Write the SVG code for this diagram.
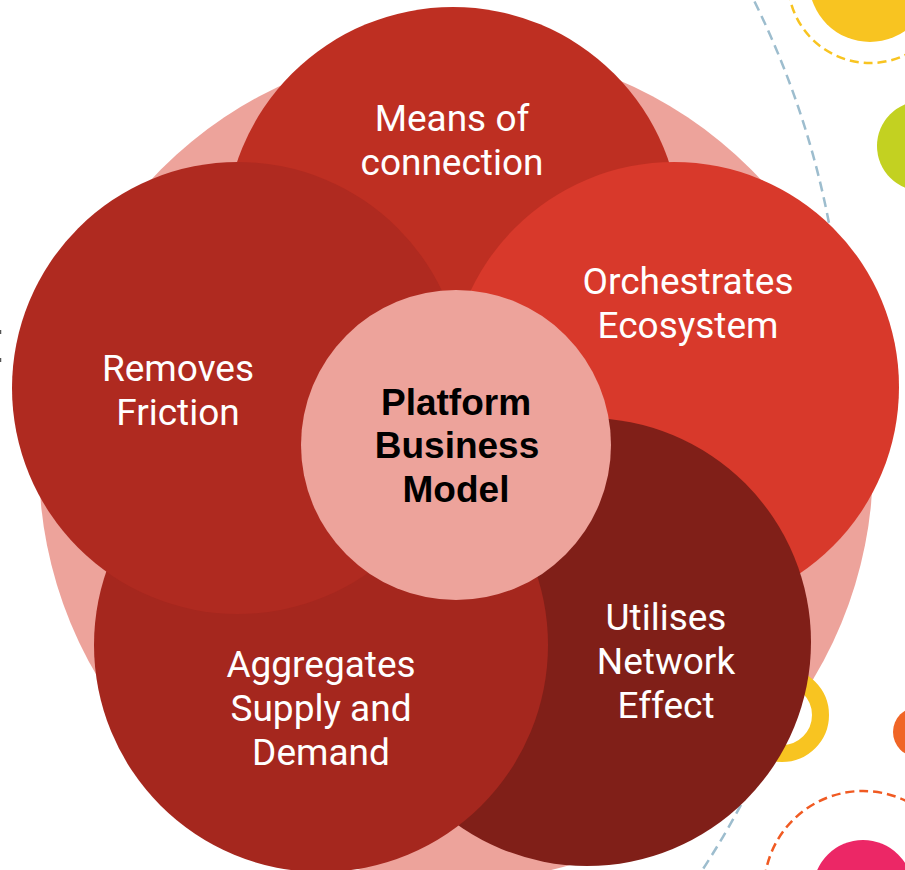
<svg xmlns="http://www.w3.org/2000/svg" width="905" height="870" viewBox="0 0 905 870">
<style>
.lbl{font-family:Roboto,"Liberation Sans",sans-serif;font-size:37px;fill:#ffffff;text-anchor:middle}
.ctr{font-family:"Liberation Sans",Arial,sans-serif;font-size:37px;font-weight:bold;fill:#000000;text-anchor:middle}
.dash{fill:none;stroke-width:2.5}
</style>
<rect width="905" height="870" fill="#ffffff"/>
<g id="decorations">
<circle cx="870" cy="-19" r="61" fill="#F8C421"/>
<circle cx="870" cy="-19" r="82" class="dash" stroke="#F8C421" stroke-dasharray="9 5"/>
<circle cx="922" cy="146" r="45" fill="#C3D121"/>
<circle cx="-34" cy="390" r="879" class="dash" stroke="#9DBDCE" stroke-width="2" stroke-dasharray="10 6"/>
<circle cx="918" cy="732" r="25" fill="#F06526"/>
<circle cx="863" cy="890" r="99" class="dash" stroke="#F05A22" stroke-dasharray="9 5"/>
<circle cx="863" cy="890" r="50" fill="#EC2766"/>
<line x1="0.5" y1="330" x2="0.5" y2="334" stroke="#555" stroke-width="1.5"/>
<line x1="0.5" y1="358" x2="0.5" y2="362" stroke="#555" stroke-width="1.5"/>
</g>
<g id="background">
<circle cx="456" cy="464" r="417" fill="#EDA39B"/>
</g>
<circle cx="782" cy="715" r="38.5" fill="none" stroke="#F8C421" stroke-width="17"/>
<g id="node-means">
<circle cx="453" cy="235" r="228" fill="#BE2F22"/>
<text class="lbl" x="452" y="131">Means of</text>
<text class="lbl" x="452" y="175">connection</text>
</g>
<g id="node-orchestrates">
<circle cx="674" cy="387" r="225" fill="#D8392B"/>
<text class="lbl" x="688" y="294">Orchestrates</text>
<text class="lbl" x="688" y="338">Ecosystem</text>
</g>
<g id="node-network">
<circle cx="587" cy="642" r="224" fill="#801F18"/>
<text class="lbl" x="666" y="630">Utilises</text>
<text class="lbl" x="666" y="674">Network</text>
<text class="lbl" x="666" y="718">Effect</text>
</g>
<g id="node-aggregates">
<circle cx="321" cy="645" r="227" fill="#A5271E"/>
<text class="lbl" x="321" y="677">Aggregates</text>
<text class="lbl" x="321" y="721">Supply and</text>
<text class="lbl" x="321" y="765">Demand</text>
</g>
<g id="node-friction">
<circle cx="238" cy="388" r="226" fill="#AF2A20"/>
<text class="lbl" x="178" y="381">Removes</text>
<text class="lbl" x="178" y="425">Friction</text>
</g>
<g id="node-center">
<circle cx="456" cy="445" r="155" fill="#EDA39B"/>
<text class="ctr" x="456" y="415">Platform</text>
<text class="ctr" x="457" y="458">Business</text>
<text class="ctr" x="456" y="502">Model</text>
</g>
</svg>
